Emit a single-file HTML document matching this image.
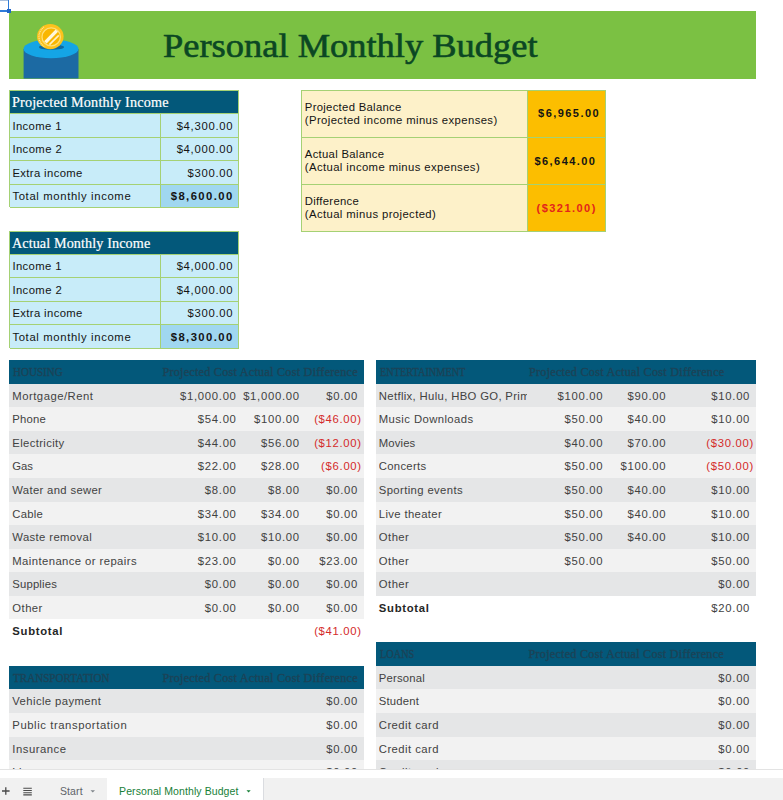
<!DOCTYPE html>
<html><head><meta charset="utf-8"><style>
html,body{margin:0;padding:0;background:#fff;}
body{width:783px;height:800px;position:relative;overflow:hidden;font-family:'Liberation Sans', sans-serif;}
body>div{position:absolute;}
.t{white-space:nowrap;}
</style></head><body>
<div style="left:9.20px;top:11.00px;width:746.80px;height:67.50px;background:#7bc143;"></div>
<div style="left:9.60px;top:90.70px;width:229.00px;height:23.00px;background:#03587a;"></div>
<div class="t" style="left:11.90px;top:95.15px;height:15.72px;line-height:15.72px;font-size:14.2px;color:#ffffff;font-family:'Liberation Serif', serif;font-weight:normal;letter-spacing:0.2px;-webkit-text-stroke:0.2px #fff;">Projected Monthly Income</div>
<div style="left:9.60px;top:113.70px;width:229.00px;height:23.45px;background:#c8ecf9;"></div>
<div class="t" style="right:549.80px;top:119.67px;height:12.62px;line-height:12.62px;font-size:11.3px;color:#141414;font-family:'Liberation Sans', sans-serif;font-weight:normal;letter-spacing:0.7px;">$4,300.00</div>
<div class="t" style="left:12.40px;top:119.67px;height:12.62px;line-height:12.62px;font-size:11.3px;color:#141414;font-family:'Liberation Sans', sans-serif;font-weight:normal;letter-spacing:0.374px;">Income 1</div>
<div style="left:9.60px;top:137.15px;width:229.00px;height:23.45px;background:#c8ecf9;"></div>
<div class="t" style="right:549.80px;top:143.12px;height:12.62px;line-height:12.62px;font-size:11.3px;color:#141414;font-family:'Liberation Sans', sans-serif;font-weight:normal;letter-spacing:0.7px;">$4,000.00</div>
<div class="t" style="left:12.40px;top:143.12px;height:12.62px;line-height:12.62px;font-size:11.3px;color:#141414;font-family:'Liberation Sans', sans-serif;font-weight:normal;letter-spacing:0.402px;">Income 2</div>
<div style="left:9.60px;top:160.60px;width:229.00px;height:23.45px;background:#c8ecf9;"></div>
<div class="t" style="right:549.80px;top:166.57px;height:12.62px;line-height:12.62px;font-size:11.3px;color:#141414;font-family:'Liberation Sans', sans-serif;font-weight:normal;letter-spacing:0.7px;">$300.00</div>
<div class="t" style="left:12.40px;top:166.57px;height:12.62px;line-height:12.62px;font-size:11.3px;color:#141414;font-family:'Liberation Sans', sans-serif;font-weight:normal;letter-spacing:0.369px;">Extra income</div>
<div style="left:9.60px;top:184.05px;width:229.00px;height:23.45px;background:#c8ecf9;"></div>
<div style="left:160.20px;top:184.05px;width:78.40px;height:23.45px;background:#a0d7f0;"></div>
<div class="t" style="right:549.40px;top:190.02px;height:12.62px;line-height:12.62px;font-size:11.3px;color:#141414;font-family:'Liberation Sans', sans-serif;font-weight:bold;letter-spacing:1.4px;">$8,600.00</div>
<div class="t" style="left:12.40px;top:190.02px;height:12.62px;line-height:12.62px;font-size:11.3px;color:#141414;font-family:'Liberation Sans', sans-serif;font-weight:normal;letter-spacing:0.641px;">Total monthly income</div>
<div style="left:9.60px;top:113.20px;width:229.00px;height:1.00px;background:#a5d174;"></div>
<div style="left:9.60px;top:136.65px;width:229.00px;height:1.00px;background:#a5d174;"></div>
<div style="left:9.60px;top:160.10px;width:229.00px;height:1.00px;background:#a5d174;"></div>
<div style="left:9.60px;top:183.55px;width:229.00px;height:1.00px;background:#a5d174;"></div>
<div style="left:9.60px;top:207.00px;width:229.00px;height:1.00px;background:#a5d174;"></div>
<div style="left:9.10px;top:90.20px;width:229.00px;height:1.00px;background:#a5d174;"></div>
<div style="left:9.10px;top:90.20px;width:1.00px;height:117.30px;background:#a5d174;"></div>
<div style="left:238.10px;top:90.20px;width:1.00px;height:117.30px;background:#a5d174;"></div>
<div style="left:159.70px;top:113.70px;width:1.00px;height:93.80px;background:#a5d174;"></div>
<div style="left:9.60px;top:231.40px;width:229.00px;height:23.00px;background:#03587a;"></div>
<div class="t" style="left:11.90px;top:235.85px;height:15.72px;line-height:15.72px;font-size:14.2px;color:#ffffff;font-family:'Liberation Serif', serif;font-weight:normal;letter-spacing:0.1px;-webkit-text-stroke:0.2px #fff;">Actual Monthly Income</div>
<div style="left:9.60px;top:254.40px;width:229.00px;height:23.45px;background:#c8ecf9;"></div>
<div class="t" style="right:549.80px;top:260.37px;height:12.62px;line-height:12.62px;font-size:11.3px;color:#141414;font-family:'Liberation Sans', sans-serif;font-weight:normal;letter-spacing:0.7px;">$4,000.00</div>
<div class="t" style="left:12.40px;top:260.37px;height:12.62px;line-height:12.62px;font-size:11.3px;color:#141414;font-family:'Liberation Sans', sans-serif;font-weight:normal;letter-spacing:0.374px;">Income 1</div>
<div style="left:9.60px;top:277.85px;width:229.00px;height:23.45px;background:#c8ecf9;"></div>
<div class="t" style="right:549.80px;top:283.82px;height:12.62px;line-height:12.62px;font-size:11.3px;color:#141414;font-family:'Liberation Sans', sans-serif;font-weight:normal;letter-spacing:0.7px;">$4,000.00</div>
<div class="t" style="left:12.40px;top:283.82px;height:12.62px;line-height:12.62px;font-size:11.3px;color:#141414;font-family:'Liberation Sans', sans-serif;font-weight:normal;letter-spacing:0.402px;">Income 2</div>
<div style="left:9.60px;top:301.30px;width:229.00px;height:23.45px;background:#c8ecf9;"></div>
<div class="t" style="right:549.80px;top:307.27px;height:12.62px;line-height:12.62px;font-size:11.3px;color:#141414;font-family:'Liberation Sans', sans-serif;font-weight:normal;letter-spacing:0.7px;">$300.00</div>
<div class="t" style="left:12.40px;top:307.27px;height:12.62px;line-height:12.62px;font-size:11.3px;color:#141414;font-family:'Liberation Sans', sans-serif;font-weight:normal;letter-spacing:0.369px;">Extra income</div>
<div style="left:9.60px;top:324.75px;width:229.00px;height:23.45px;background:#c8ecf9;"></div>
<div style="left:160.20px;top:324.75px;width:78.40px;height:23.45px;background:#a0d7f0;"></div>
<div class="t" style="right:549.40px;top:330.72px;height:12.62px;line-height:12.62px;font-size:11.3px;color:#141414;font-family:'Liberation Sans', sans-serif;font-weight:bold;letter-spacing:1.4px;">$8,300.00</div>
<div class="t" style="left:12.40px;top:330.72px;height:12.62px;line-height:12.62px;font-size:11.3px;color:#141414;font-family:'Liberation Sans', sans-serif;font-weight:normal;letter-spacing:0.641px;">Total monthly income</div>
<div style="left:9.60px;top:253.90px;width:229.00px;height:1.00px;background:#a5d174;"></div>
<div style="left:9.60px;top:277.35px;width:229.00px;height:1.00px;background:#a5d174;"></div>
<div style="left:9.60px;top:300.80px;width:229.00px;height:1.00px;background:#a5d174;"></div>
<div style="left:9.60px;top:324.25px;width:229.00px;height:1.00px;background:#a5d174;"></div>
<div style="left:9.60px;top:347.70px;width:229.00px;height:1.00px;background:#a5d174;"></div>
<div style="left:9.10px;top:230.90px;width:229.00px;height:1.00px;background:#a5d174;"></div>
<div style="left:9.10px;top:230.90px;width:1.00px;height:117.30px;background:#a5d174;"></div>
<div style="left:238.10px;top:230.90px;width:1.00px;height:117.30px;background:#a5d174;"></div>
<div style="left:159.70px;top:254.40px;width:1.00px;height:93.80px;background:#a5d174;"></div>
<div style="left:301.70px;top:90.20px;width:225.30px;height:141.00px;background:#fdf1c9;"></div>
<div style="left:527.00px;top:90.20px;width:78.30px;height:141.00px;background:#fcbe00;"></div>
<div style="left:301.20px;top:89.70px;width:304.60px;height:1.00px;background:#a5d174;"></div>
<div style="left:301.20px;top:136.80px;width:304.60px;height:1.00px;background:#a5d174;"></div>
<div style="left:301.20px;top:183.80px;width:304.60px;height:1.00px;background:#a5d174;"></div>
<div style="left:301.20px;top:230.70px;width:304.60px;height:1.00px;background:#a5d174;"></div>
<div style="left:301.20px;top:90.20px;width:1.00px;height:141.00px;background:#a5d174;"></div>
<div style="left:526.50px;top:90.20px;width:1.00px;height:141.00px;background:#a5d174;"></div>
<div style="left:604.80px;top:90.20px;width:1.00px;height:141.00px;background:#a5d174;"></div>
<div class="t" style="left:304.80px;top:101.27px;height:12.62px;line-height:12.62px;font-size:11.3px;color:#141414;font-family:'Liberation Sans', sans-serif;font-weight:normal;letter-spacing:0.3px;">Projected Balance</div>
<div class="t" style="left:304.80px;top:114.07px;height:12.62px;line-height:12.62px;font-size:11.3px;color:#141414;font-family:'Liberation Sans', sans-serif;font-weight:normal;letter-spacing:0.4px;">(Projected income minus expenses)</div>
<div class="t" style="right:182.95px;top:107.45px;height:12.29px;line-height:12.29px;font-size:11px;color:#141414;font-family:'Liberation Sans', sans-serif;font-weight:bold;letter-spacing:1.45px;">$6,965.00</div>
<div class="t" style="left:304.80px;top:148.37px;height:12.62px;line-height:12.62px;font-size:11.3px;color:#141414;font-family:'Liberation Sans', sans-serif;font-weight:normal;letter-spacing:0.3px;">Actual Balance</div>
<div class="t" style="left:304.80px;top:161.17px;height:12.62px;line-height:12.62px;font-size:11.3px;color:#141414;font-family:'Liberation Sans', sans-serif;font-weight:normal;letter-spacing:0.4px;">(Actual income minus expenses)</div>
<div class="t" style="right:186.55px;top:154.54px;height:12.29px;line-height:12.29px;font-size:11px;color:#141414;font-family:'Liberation Sans', sans-serif;font-weight:bold;letter-spacing:1.45px;">$6,644.00</div>
<div class="t" style="left:304.80px;top:195.37px;height:12.62px;line-height:12.62px;font-size:11.3px;color:#141414;font-family:'Liberation Sans', sans-serif;font-weight:normal;letter-spacing:0.3px;">Difference</div>
<div class="t" style="left:304.80px;top:208.17px;height:12.62px;line-height:12.62px;font-size:11.3px;color:#141414;font-family:'Liberation Sans', sans-serif;font-weight:normal;letter-spacing:0.4px;">(Actual minus projected)</div>
<div class="t" style="right:186.25px;top:201.54px;height:12.29px;line-height:12.29px;font-size:11px;color:#e3241b;font-family:'Liberation Sans', sans-serif;font-weight:bold;letter-spacing:1.45px;">($321.00)</div>
<div style="left:9.20px;top:360.30px;width:354.70px;height:23.40px;background:#03587a;"></div>
<div class="t" style="left:13.10px;top:366.23px;height:13.51px;line-height:13.51px;font-size:12.2px;color:#1b4357;font-family:'Liberation Serif', serif;font-weight:normal;letter-spacing:0px;-webkit-text-stroke:0.35px #1b4357;transform:scaleX(0.905);transform-origin:0 0;">HOUSING</div>
<div class="t" style="left:162.40px;top:366.23px;height:13.51px;line-height:13.51px;font-size:12.2px;color:#1b4357;font-family:'Liberation Serif', serif;font-weight:normal;letter-spacing:0.24px;-webkit-text-stroke:0.35px #1b4357;">Projected Cost Actual Cost Difference</div>
<div style="left:9.20px;top:383.70px;width:354.70px;height:23.57px;background:#e5e6e7;"></div>
<div class="t" style="left:12.30px;top:389.77px;height:12.62px;line-height:12.62px;font-size:11.3px;color:#424242;font-family:'Liberation Sans', sans-serif;font-weight:normal;letter-spacing:0.493px;width:165.70px;overflow:hidden;">Mortgage/Rent</div>
<div class="t" style="right:546.40px;top:389.77px;height:12.62px;line-height:12.62px;font-size:11.3px;color:#424242;font-family:'Liberation Sans', sans-serif;font-weight:normal;letter-spacing:0.7px;">$1,000.00</div>
<div class="t" style="right:483.30px;top:389.77px;height:12.62px;line-height:12.62px;font-size:11.3px;color:#424242;font-family:'Liberation Sans', sans-serif;font-weight:normal;letter-spacing:0.7px;">$1,000.00</div>
<div class="t" style="right:425.00px;top:389.77px;height:12.62px;line-height:12.62px;font-size:11.3px;color:#424242;font-family:'Liberation Sans', sans-serif;font-weight:normal;letter-spacing:0.7px;">$0.00</div>
<div style="left:9.20px;top:407.27px;width:354.70px;height:23.57px;background:#f2f2f2;"></div>
<div class="t" style="left:12.30px;top:413.34px;height:12.62px;line-height:12.62px;font-size:11.3px;color:#424242;font-family:'Liberation Sans', sans-serif;font-weight:normal;letter-spacing:0.204px;width:165.70px;overflow:hidden;">Phone</div>
<div class="t" style="right:546.40px;top:413.34px;height:12.62px;line-height:12.62px;font-size:11.3px;color:#424242;font-family:'Liberation Sans', sans-serif;font-weight:normal;letter-spacing:0.7px;">$54.00</div>
<div class="t" style="right:483.30px;top:413.34px;height:12.62px;line-height:12.62px;font-size:11.3px;color:#424242;font-family:'Liberation Sans', sans-serif;font-weight:normal;letter-spacing:0.7px;">$100.00</div>
<div class="t" style="right:421.20px;top:413.34px;height:12.62px;line-height:12.62px;font-size:11.3px;color:#d42a2a;font-family:'Liberation Sans', sans-serif;font-weight:normal;letter-spacing:0.7px;">($46.00)</div>
<div style="left:9.20px;top:430.84px;width:354.70px;height:23.57px;background:#e5e6e7;"></div>
<div class="t" style="left:12.30px;top:436.91px;height:12.62px;line-height:12.62px;font-size:11.3px;color:#424242;font-family:'Liberation Sans', sans-serif;font-weight:normal;letter-spacing:0.352px;width:165.70px;overflow:hidden;">Electricity</div>
<div class="t" style="right:546.40px;top:436.91px;height:12.62px;line-height:12.62px;font-size:11.3px;color:#424242;font-family:'Liberation Sans', sans-serif;font-weight:normal;letter-spacing:0.7px;">$44.00</div>
<div class="t" style="right:483.30px;top:436.91px;height:12.62px;line-height:12.62px;font-size:11.3px;color:#424242;font-family:'Liberation Sans', sans-serif;font-weight:normal;letter-spacing:0.7px;">$56.00</div>
<div class="t" style="right:421.20px;top:436.91px;height:12.62px;line-height:12.62px;font-size:11.3px;color:#d42a2a;font-family:'Liberation Sans', sans-serif;font-weight:normal;letter-spacing:0.7px;">($12.00)</div>
<div style="left:9.20px;top:454.41px;width:354.70px;height:23.57px;background:#f2f2f2;"></div>
<div class="t" style="left:12.30px;top:460.48px;height:12.62px;line-height:12.62px;font-size:11.3px;color:#424242;font-family:'Liberation Sans', sans-serif;font-weight:normal;letter-spacing:0.0px;width:165.70px;overflow:hidden;">Gas</div>
<div class="t" style="right:546.40px;top:460.48px;height:12.62px;line-height:12.62px;font-size:11.3px;color:#424242;font-family:'Liberation Sans', sans-serif;font-weight:normal;letter-spacing:0.7px;">$22.00</div>
<div class="t" style="right:483.30px;top:460.48px;height:12.62px;line-height:12.62px;font-size:11.3px;color:#424242;font-family:'Liberation Sans', sans-serif;font-weight:normal;letter-spacing:0.7px;">$28.00</div>
<div class="t" style="right:421.20px;top:460.48px;height:12.62px;line-height:12.62px;font-size:11.3px;color:#d42a2a;font-family:'Liberation Sans', sans-serif;font-weight:normal;letter-spacing:0.7px;">($6.00)</div>
<div style="left:9.20px;top:477.98px;width:354.70px;height:23.57px;background:#e5e6e7;"></div>
<div class="t" style="left:12.30px;top:484.05px;height:12.62px;line-height:12.62px;font-size:11.3px;color:#424242;font-family:'Liberation Sans', sans-serif;font-weight:normal;letter-spacing:0.328px;width:165.70px;overflow:hidden;">Water and sewer</div>
<div class="t" style="right:546.40px;top:484.05px;height:12.62px;line-height:12.62px;font-size:11.3px;color:#424242;font-family:'Liberation Sans', sans-serif;font-weight:normal;letter-spacing:0.7px;">$8.00</div>
<div class="t" style="right:483.30px;top:484.05px;height:12.62px;line-height:12.62px;font-size:11.3px;color:#424242;font-family:'Liberation Sans', sans-serif;font-weight:normal;letter-spacing:0.7px;">$8.00</div>
<div class="t" style="right:425.00px;top:484.05px;height:12.62px;line-height:12.62px;font-size:11.3px;color:#424242;font-family:'Liberation Sans', sans-serif;font-weight:normal;letter-spacing:0.7px;">$0.00</div>
<div style="left:9.20px;top:501.55px;width:354.70px;height:23.57px;background:#f2f2f2;"></div>
<div class="t" style="left:12.30px;top:507.62px;height:12.62px;line-height:12.62px;font-size:11.3px;color:#424242;font-family:'Liberation Sans', sans-serif;font-weight:normal;letter-spacing:0.217px;width:165.70px;overflow:hidden;">Cable</div>
<div class="t" style="right:546.40px;top:507.62px;height:12.62px;line-height:12.62px;font-size:11.3px;color:#424242;font-family:'Liberation Sans', sans-serif;font-weight:normal;letter-spacing:0.7px;">$34.00</div>
<div class="t" style="right:483.30px;top:507.62px;height:12.62px;line-height:12.62px;font-size:11.3px;color:#424242;font-family:'Liberation Sans', sans-serif;font-weight:normal;letter-spacing:0.7px;">$34.00</div>
<div class="t" style="right:425.00px;top:507.62px;height:12.62px;line-height:12.62px;font-size:11.3px;color:#424242;font-family:'Liberation Sans', sans-serif;font-weight:normal;letter-spacing:0.7px;">$0.00</div>
<div style="left:9.20px;top:525.12px;width:354.70px;height:23.57px;background:#e5e6e7;"></div>
<div class="t" style="left:12.30px;top:531.19px;height:12.62px;line-height:12.62px;font-size:11.3px;color:#424242;font-family:'Liberation Sans', sans-serif;font-weight:normal;letter-spacing:0.375px;width:165.70px;overflow:hidden;">Waste removal</div>
<div class="t" style="right:546.40px;top:531.19px;height:12.62px;line-height:12.62px;font-size:11.3px;color:#424242;font-family:'Liberation Sans', sans-serif;font-weight:normal;letter-spacing:0.7px;">$10.00</div>
<div class="t" style="right:483.30px;top:531.19px;height:12.62px;line-height:12.62px;font-size:11.3px;color:#424242;font-family:'Liberation Sans', sans-serif;font-weight:normal;letter-spacing:0.7px;">$10.00</div>
<div class="t" style="right:425.00px;top:531.19px;height:12.62px;line-height:12.62px;font-size:11.3px;color:#424242;font-family:'Liberation Sans', sans-serif;font-weight:normal;letter-spacing:0.7px;">$0.00</div>
<div style="left:9.20px;top:548.69px;width:354.70px;height:23.57px;background:#f2f2f2;"></div>
<div class="t" style="left:12.30px;top:554.76px;height:12.62px;line-height:12.62px;font-size:11.3px;color:#424242;font-family:'Liberation Sans', sans-serif;font-weight:normal;letter-spacing:0.415px;width:165.70px;overflow:hidden;">Maintenance or repairs</div>
<div class="t" style="right:546.40px;top:554.76px;height:12.62px;line-height:12.62px;font-size:11.3px;color:#424242;font-family:'Liberation Sans', sans-serif;font-weight:normal;letter-spacing:0.7px;">$23.00</div>
<div class="t" style="right:483.30px;top:554.76px;height:12.62px;line-height:12.62px;font-size:11.3px;color:#424242;font-family:'Liberation Sans', sans-serif;font-weight:normal;letter-spacing:0.7px;">$0.00</div>
<div class="t" style="right:425.00px;top:554.76px;height:12.62px;line-height:12.62px;font-size:11.3px;color:#424242;font-family:'Liberation Sans', sans-serif;font-weight:normal;letter-spacing:0.7px;">$23.00</div>
<div style="left:9.20px;top:572.26px;width:354.70px;height:23.57px;background:#e5e6e7;"></div>
<div class="t" style="left:12.30px;top:578.33px;height:12.62px;line-height:12.62px;font-size:11.3px;color:#424242;font-family:'Liberation Sans', sans-serif;font-weight:normal;letter-spacing:0.173px;width:165.70px;overflow:hidden;">Supplies</div>
<div class="t" style="right:546.40px;top:578.33px;height:12.62px;line-height:12.62px;font-size:11.3px;color:#424242;font-family:'Liberation Sans', sans-serif;font-weight:normal;letter-spacing:0.7px;">$0.00</div>
<div class="t" style="right:483.30px;top:578.33px;height:12.62px;line-height:12.62px;font-size:11.3px;color:#424242;font-family:'Liberation Sans', sans-serif;font-weight:normal;letter-spacing:0.7px;">$0.00</div>
<div class="t" style="right:425.00px;top:578.33px;height:12.62px;line-height:12.62px;font-size:11.3px;color:#424242;font-family:'Liberation Sans', sans-serif;font-weight:normal;letter-spacing:0.7px;">$0.00</div>
<div style="left:9.20px;top:595.83px;width:354.70px;height:23.57px;background:#f2f2f2;"></div>
<div class="t" style="left:12.30px;top:601.90px;height:12.62px;line-height:12.62px;font-size:11.3px;color:#424242;font-family:'Liberation Sans', sans-serif;font-weight:normal;letter-spacing:0.452px;width:165.70px;overflow:hidden;">Other</div>
<div class="t" style="right:546.40px;top:601.90px;height:12.62px;line-height:12.62px;font-size:11.3px;color:#424242;font-family:'Liberation Sans', sans-serif;font-weight:normal;letter-spacing:0.7px;">$0.00</div>
<div class="t" style="right:483.30px;top:601.90px;height:12.62px;line-height:12.62px;font-size:11.3px;color:#424242;font-family:'Liberation Sans', sans-serif;font-weight:normal;letter-spacing:0.7px;">$0.00</div>
<div class="t" style="right:425.00px;top:601.90px;height:12.62px;line-height:12.62px;font-size:11.3px;color:#424242;font-family:'Liberation Sans', sans-serif;font-weight:normal;letter-spacing:0.7px;">$0.00</div>
<div class="t" style="left:12.30px;top:625.47px;height:12.62px;line-height:12.62px;font-size:11.3px;color:#262626;font-family:'Liberation Sans', sans-serif;font-weight:bold;letter-spacing:0.7px;">Subtotal</div>
<div class="t" style="right:421.20px;top:625.47px;height:12.62px;line-height:12.62px;font-size:11.3px;color:#d42a2a;font-family:'Liberation Sans', sans-serif;font-weight:normal;letter-spacing:0.7px;">($41.00)</div>
<div style="left:375.70px;top:360.30px;width:380.10px;height:23.40px;background:#03587a;"></div>
<div class="t" style="left:379.60px;top:366.23px;height:13.51px;line-height:13.51px;font-size:12.2px;color:#1b4357;font-family:'Liberation Serif', serif;font-weight:normal;letter-spacing:0px;-webkit-text-stroke:0.35px #1b4357;transform:scaleX(0.844);transform-origin:0 0;">ENTERTAINMENT</div>
<div class="t" style="left:529.00px;top:366.23px;height:13.51px;line-height:13.51px;font-size:12.2px;color:#1b4357;font-family:'Liberation Serif', serif;font-weight:normal;letter-spacing:0.24px;-webkit-text-stroke:0.35px #1b4357;">Projected Cost Actual Cost Difference</div>
<div style="left:375.70px;top:383.70px;width:380.10px;height:23.57px;background:#e5e6e7;"></div>
<div class="t" style="left:378.80px;top:389.77px;height:12.62px;line-height:12.62px;font-size:11.3px;color:#424242;font-family:'Liberation Sans', sans-serif;font-weight:normal;letter-spacing:0.344px;width:147.80px;overflow:hidden;">Netflix, Hulu, HBO GO, Prime</div>
<div class="t" style="right:179.70px;top:389.77px;height:12.62px;line-height:12.62px;font-size:11.3px;color:#424242;font-family:'Liberation Sans', sans-serif;font-weight:normal;letter-spacing:0.7px;">$100.00</div>
<div class="t" style="right:116.70px;top:389.77px;height:12.62px;line-height:12.62px;font-size:11.3px;color:#424242;font-family:'Liberation Sans', sans-serif;font-weight:normal;letter-spacing:0.7px;">$90.00</div>
<div class="t" style="right:32.90px;top:389.77px;height:12.62px;line-height:12.62px;font-size:11.3px;color:#424242;font-family:'Liberation Sans', sans-serif;font-weight:normal;letter-spacing:0.7px;">$10.00</div>
<div style="left:375.70px;top:407.27px;width:380.10px;height:23.57px;background:#f2f2f2;"></div>
<div class="t" style="left:378.80px;top:413.34px;height:12.62px;line-height:12.62px;font-size:11.3px;color:#424242;font-family:'Liberation Sans', sans-serif;font-weight:normal;letter-spacing:0.409px;width:147.80px;overflow:hidden;">Music Downloads</div>
<div class="t" style="right:179.70px;top:413.34px;height:12.62px;line-height:12.62px;font-size:11.3px;color:#424242;font-family:'Liberation Sans', sans-serif;font-weight:normal;letter-spacing:0.7px;">$50.00</div>
<div class="t" style="right:116.70px;top:413.34px;height:12.62px;line-height:12.62px;font-size:11.3px;color:#424242;font-family:'Liberation Sans', sans-serif;font-weight:normal;letter-spacing:0.7px;">$40.00</div>
<div class="t" style="right:32.90px;top:413.34px;height:12.62px;line-height:12.62px;font-size:11.3px;color:#424242;font-family:'Liberation Sans', sans-serif;font-weight:normal;letter-spacing:0.7px;">$10.00</div>
<div style="left:375.70px;top:430.84px;width:380.10px;height:23.57px;background:#e5e6e7;"></div>
<div class="t" style="left:378.80px;top:436.91px;height:12.62px;line-height:12.62px;font-size:11.3px;color:#424242;font-family:'Liberation Sans', sans-serif;font-weight:normal;letter-spacing:0.133px;width:147.80px;overflow:hidden;">Movies</div>
<div class="t" style="right:179.70px;top:436.91px;height:12.62px;line-height:12.62px;font-size:11.3px;color:#424242;font-family:'Liberation Sans', sans-serif;font-weight:normal;letter-spacing:0.7px;">$40.00</div>
<div class="t" style="right:116.70px;top:436.91px;height:12.62px;line-height:12.62px;font-size:11.3px;color:#424242;font-family:'Liberation Sans', sans-serif;font-weight:normal;letter-spacing:0.7px;">$70.00</div>
<div class="t" style="right:29.10px;top:436.91px;height:12.62px;line-height:12.62px;font-size:11.3px;color:#d42a2a;font-family:'Liberation Sans', sans-serif;font-weight:normal;letter-spacing:0.7px;">($30.00)</div>
<div style="left:375.70px;top:454.41px;width:380.10px;height:23.57px;background:#f2f2f2;"></div>
<div class="t" style="left:378.80px;top:460.48px;height:12.62px;line-height:12.62px;font-size:11.3px;color:#424242;font-family:'Liberation Sans', sans-serif;font-weight:normal;letter-spacing:0.292px;width:147.80px;overflow:hidden;">Concerts</div>
<div class="t" style="right:179.70px;top:460.48px;height:12.62px;line-height:12.62px;font-size:11.3px;color:#424242;font-family:'Liberation Sans', sans-serif;font-weight:normal;letter-spacing:0.7px;">$50.00</div>
<div class="t" style="right:116.70px;top:460.48px;height:12.62px;line-height:12.62px;font-size:11.3px;color:#424242;font-family:'Liberation Sans', sans-serif;font-weight:normal;letter-spacing:0.7px;">$100.00</div>
<div class="t" style="right:29.10px;top:460.48px;height:12.62px;line-height:12.62px;font-size:11.3px;color:#d42a2a;font-family:'Liberation Sans', sans-serif;font-weight:normal;letter-spacing:0.7px;">($50.00)</div>
<div style="left:375.70px;top:477.98px;width:380.10px;height:23.57px;background:#e5e6e7;"></div>
<div class="t" style="left:378.80px;top:484.05px;height:12.62px;line-height:12.62px;font-size:11.3px;color:#424242;font-family:'Liberation Sans', sans-serif;font-weight:normal;letter-spacing:0.375px;width:147.80px;overflow:hidden;">Sporting events</div>
<div class="t" style="right:179.70px;top:484.05px;height:12.62px;line-height:12.62px;font-size:11.3px;color:#424242;font-family:'Liberation Sans', sans-serif;font-weight:normal;letter-spacing:0.7px;">$50.00</div>
<div class="t" style="right:116.70px;top:484.05px;height:12.62px;line-height:12.62px;font-size:11.3px;color:#424242;font-family:'Liberation Sans', sans-serif;font-weight:normal;letter-spacing:0.7px;">$40.00</div>
<div class="t" style="right:32.90px;top:484.05px;height:12.62px;line-height:12.62px;font-size:11.3px;color:#424242;font-family:'Liberation Sans', sans-serif;font-weight:normal;letter-spacing:0.7px;">$10.00</div>
<div style="left:375.70px;top:501.55px;width:380.10px;height:23.57px;background:#f2f2f2;"></div>
<div class="t" style="left:378.80px;top:507.62px;height:12.62px;line-height:12.62px;font-size:11.3px;color:#424242;font-family:'Liberation Sans', sans-serif;font-weight:normal;letter-spacing:0.357px;width:147.80px;overflow:hidden;">Live theater</div>
<div class="t" style="right:179.70px;top:507.62px;height:12.62px;line-height:12.62px;font-size:11.3px;color:#424242;font-family:'Liberation Sans', sans-serif;font-weight:normal;letter-spacing:0.7px;">$50.00</div>
<div class="t" style="right:116.70px;top:507.62px;height:12.62px;line-height:12.62px;font-size:11.3px;color:#424242;font-family:'Liberation Sans', sans-serif;font-weight:normal;letter-spacing:0.7px;">$40.00</div>
<div class="t" style="right:32.90px;top:507.62px;height:12.62px;line-height:12.62px;font-size:11.3px;color:#424242;font-family:'Liberation Sans', sans-serif;font-weight:normal;letter-spacing:0.7px;">$10.00</div>
<div style="left:375.70px;top:525.12px;width:380.10px;height:23.57px;background:#e5e6e7;"></div>
<div class="t" style="left:378.80px;top:531.19px;height:12.62px;line-height:12.62px;font-size:11.3px;color:#424242;font-family:'Liberation Sans', sans-serif;font-weight:normal;letter-spacing:0.452px;width:147.80px;overflow:hidden;">Other</div>
<div class="t" style="right:179.70px;top:531.19px;height:12.62px;line-height:12.62px;font-size:11.3px;color:#424242;font-family:'Liberation Sans', sans-serif;font-weight:normal;letter-spacing:0.7px;">$50.00</div>
<div class="t" style="right:116.70px;top:531.19px;height:12.62px;line-height:12.62px;font-size:11.3px;color:#424242;font-family:'Liberation Sans', sans-serif;font-weight:normal;letter-spacing:0.7px;">$40.00</div>
<div class="t" style="right:32.90px;top:531.19px;height:12.62px;line-height:12.62px;font-size:11.3px;color:#424242;font-family:'Liberation Sans', sans-serif;font-weight:normal;letter-spacing:0.7px;">$10.00</div>
<div style="left:375.70px;top:548.69px;width:380.10px;height:23.57px;background:#f2f2f2;"></div>
<div class="t" style="left:378.80px;top:554.76px;height:12.62px;line-height:12.62px;font-size:11.3px;color:#424242;font-family:'Liberation Sans', sans-serif;font-weight:normal;letter-spacing:0.452px;width:147.80px;overflow:hidden;">Other</div>
<div class="t" style="right:179.70px;top:554.76px;height:12.62px;line-height:12.62px;font-size:11.3px;color:#424242;font-family:'Liberation Sans', sans-serif;font-weight:normal;letter-spacing:0.7px;">$50.00</div>
<div class="t" style="right:32.90px;top:554.76px;height:12.62px;line-height:12.62px;font-size:11.3px;color:#424242;font-family:'Liberation Sans', sans-serif;font-weight:normal;letter-spacing:0.7px;">$50.00</div>
<div style="left:375.70px;top:572.26px;width:380.10px;height:23.57px;background:#e5e6e7;"></div>
<div class="t" style="left:378.80px;top:578.33px;height:12.62px;line-height:12.62px;font-size:11.3px;color:#424242;font-family:'Liberation Sans', sans-serif;font-weight:normal;letter-spacing:0.452px;width:147.80px;overflow:hidden;">Other</div>
<div class="t" style="right:32.90px;top:578.33px;height:12.62px;line-height:12.62px;font-size:11.3px;color:#424242;font-family:'Liberation Sans', sans-serif;font-weight:normal;letter-spacing:0.7px;">$0.00</div>
<div class="t" style="left:378.80px;top:601.90px;height:12.62px;line-height:12.62px;font-size:11.3px;color:#262626;font-family:'Liberation Sans', sans-serif;font-weight:bold;letter-spacing:0.7px;">Subtotal</div>
<div class="t" style="right:32.90px;top:601.90px;height:12.62px;line-height:12.62px;font-size:11.3px;color:#424242;font-family:'Liberation Sans', sans-serif;font-weight:normal;letter-spacing:0.7px;">$20.00</div>
<div style="left:9.20px;top:666.00px;width:354.70px;height:23.40px;background:#03587a;"></div>
<div class="t" style="left:13.10px;top:671.93px;height:13.51px;line-height:13.51px;font-size:12.2px;color:#1b4357;font-family:'Liberation Serif', serif;font-weight:normal;letter-spacing:0px;-webkit-text-stroke:0.35px #1b4357;transform:scaleX(0.910);transform-origin:0 0;">TRANSPORTATION</div>
<div class="t" style="left:162.40px;top:671.93px;height:13.51px;line-height:13.51px;font-size:12.2px;color:#1b4357;font-family:'Liberation Serif', serif;font-weight:normal;letter-spacing:0.24px;-webkit-text-stroke:0.35px #1b4357;">Projected Cost Actual Cost Difference</div>
<div style="left:9.20px;top:689.40px;width:354.70px;height:23.57px;background:#e5e6e7;"></div>
<div class="t" style="left:12.30px;top:695.47px;height:12.62px;line-height:12.62px;font-size:11.3px;color:#424242;font-family:'Liberation Sans', sans-serif;font-weight:normal;letter-spacing:0.403px;width:165.70px;overflow:hidden;">Vehicle payment</div>
<div class="t" style="right:425.00px;top:695.47px;height:12.62px;line-height:12.62px;font-size:11.3px;color:#424242;font-family:'Liberation Sans', sans-serif;font-weight:normal;letter-spacing:0.7px;">$0.00</div>
<div style="left:9.20px;top:712.97px;width:354.70px;height:23.57px;background:#f2f2f2;"></div>
<div class="t" style="left:12.30px;top:719.04px;height:12.62px;line-height:12.62px;font-size:11.3px;color:#424242;font-family:'Liberation Sans', sans-serif;font-weight:normal;letter-spacing:0.57px;width:165.70px;overflow:hidden;">Public transportation</div>
<div class="t" style="right:425.00px;top:719.04px;height:12.62px;line-height:12.62px;font-size:11.3px;color:#424242;font-family:'Liberation Sans', sans-serif;font-weight:normal;letter-spacing:0.7px;">$0.00</div>
<div style="left:9.20px;top:736.54px;width:354.70px;height:23.57px;background:#e5e6e7;"></div>
<div class="t" style="left:12.30px;top:742.61px;height:12.62px;line-height:12.62px;font-size:11.3px;color:#424242;font-family:'Liberation Sans', sans-serif;font-weight:normal;letter-spacing:0.509px;width:165.70px;overflow:hidden;">Insurance</div>
<div class="t" style="right:425.00px;top:742.61px;height:12.62px;line-height:12.62px;font-size:11.3px;color:#424242;font-family:'Liberation Sans', sans-serif;font-weight:normal;letter-spacing:0.7px;">$0.00</div>
<div style="left:9.20px;top:760.11px;width:354.70px;height:9.29px;background:#f2f2f2;"></div>
<div class="t" style="left:12.30px;top:766.18px;height:12.62px;line-height:12.62px;font-size:11.3px;color:#424242;font-family:'Liberation Sans', sans-serif;font-weight:normal;letter-spacing:0.4px;width:165.70px;overflow:hidden;clip-path:inset(0 -5px 9.41px -5px);">License</div>
<div class="t" style="right:425.00px;top:766.18px;height:12.62px;line-height:12.62px;font-size:11.3px;color:#424242;font-family:'Liberation Sans', sans-serif;font-weight:normal;letter-spacing:0.7px;clip-path:inset(0 -5px 9.41px -5px);">$0.00</div>
<div style="left:375.70px;top:642.40px;width:380.10px;height:23.40px;background:#03587a;"></div>
<div class="t" style="left:379.60px;top:648.33px;height:13.51px;line-height:13.51px;font-size:12.2px;color:#1b4357;font-family:'Liberation Serif', serif;font-weight:normal;letter-spacing:0px;-webkit-text-stroke:0.35px #1b4357;transform:scaleX(0.845);transform-origin:0 0;">LOANS</div>
<div class="t" style="left:528.50px;top:648.33px;height:13.51px;line-height:13.51px;font-size:12.2px;color:#1b4357;font-family:'Liberation Serif', serif;font-weight:normal;letter-spacing:0.24px;-webkit-text-stroke:0.35px #1b4357;">Projected Cost Actual Cost Difference</div>
<div style="left:375.70px;top:665.80px;width:380.10px;height:23.57px;background:#e5e6e7;"></div>
<div class="t" style="left:378.80px;top:671.87px;height:12.62px;line-height:12.62px;font-size:11.3px;color:#424242;font-family:'Liberation Sans', sans-serif;font-weight:normal;letter-spacing:0.189px;width:147.80px;overflow:hidden;">Personal</div>
<div class="t" style="right:32.90px;top:671.87px;height:12.62px;line-height:12.62px;font-size:11.3px;color:#424242;font-family:'Liberation Sans', sans-serif;font-weight:normal;letter-spacing:0.7px;">$0.00</div>
<div style="left:375.70px;top:689.37px;width:380.10px;height:23.57px;background:#f2f2f2;"></div>
<div class="t" style="left:378.80px;top:695.44px;height:12.62px;line-height:12.62px;font-size:11.3px;color:#424242;font-family:'Liberation Sans', sans-serif;font-weight:normal;letter-spacing:0.183px;width:147.80px;overflow:hidden;">Student</div>
<div class="t" style="right:32.90px;top:695.44px;height:12.62px;line-height:12.62px;font-size:11.3px;color:#424242;font-family:'Liberation Sans', sans-serif;font-weight:normal;letter-spacing:0.7px;">$0.00</div>
<div style="left:375.70px;top:712.94px;width:380.10px;height:23.57px;background:#e5e6e7;"></div>
<div class="t" style="left:378.80px;top:719.01px;height:12.62px;line-height:12.62px;font-size:11.3px;color:#424242;font-family:'Liberation Sans', sans-serif;font-weight:normal;letter-spacing:0.443px;width:147.80px;overflow:hidden;">Credit card</div>
<div class="t" style="right:32.90px;top:719.01px;height:12.62px;line-height:12.62px;font-size:11.3px;color:#424242;font-family:'Liberation Sans', sans-serif;font-weight:normal;letter-spacing:0.7px;">$0.00</div>
<div style="left:375.70px;top:736.51px;width:380.10px;height:23.57px;background:#f2f2f2;"></div>
<div class="t" style="left:378.80px;top:742.58px;height:12.62px;line-height:12.62px;font-size:11.3px;color:#424242;font-family:'Liberation Sans', sans-serif;font-weight:normal;letter-spacing:0.443px;width:147.80px;overflow:hidden;">Credit card</div>
<div class="t" style="right:32.90px;top:742.58px;height:12.62px;line-height:12.62px;font-size:11.3px;color:#424242;font-family:'Liberation Sans', sans-serif;font-weight:normal;letter-spacing:0.7px;">$0.00</div>
<div style="left:375.70px;top:760.08px;width:380.10px;height:9.32px;background:#e5e6e7;"></div>
<div class="t" style="left:378.80px;top:766.15px;height:12.62px;line-height:12.62px;font-size:11.3px;color:#424242;font-family:'Liberation Sans', sans-serif;font-weight:normal;letter-spacing:0.443px;width:147.80px;overflow:hidden;clip-path:inset(0 -5px 9.38px -5px);">Credit card</div>
<div class="t" style="right:32.90px;top:766.15px;height:12.62px;line-height:12.62px;font-size:11.3px;color:#424242;font-family:'Liberation Sans', sans-serif;font-weight:normal;letter-spacing:0.7px;clip-path:inset(0 -5px 9.38px -5px);">$0.00</div>
<svg style="position:absolute;left:0;top:0" width="100" height="90" viewBox="0 0 100 90">
<rect x="23.6" y="49" width="54.9" height="29.5" fill="#1c6aa3"/>
<ellipse cx="51" cy="48.9" rx="27.5" ry="9.3" fill="#14a5e6"/>
<ellipse cx="51.5" cy="47.2" rx="12.5" ry="2.6" fill="#0f6aa0"/>
<ellipse cx="50.3" cy="36.6" rx="13.3" ry="12.6" fill="#fcc21c"/>
<path d="M44 27 A12.4 12 0 0 0 45 47" fill="none" stroke="#fde9a0" stroke-width="1.2" stroke-dasharray="1 0.8"/>
<ellipse cx="51.2" cy="36.9" rx="9.2" ry="9.0" fill="#f9b600" stroke="#fee07a" stroke-width="1.2"/>
<path d="M45.4 42.4 L56.8 30.6" stroke="#fff7dc" stroke-width="3.4" fill="none"/>
<path d="M49.4 44.6 L58.8 35.4" stroke="#fff1c4" stroke-width="1.6" fill="none"/>
</svg>
<div class="t" style="left:162.90px;top:26.55px;height:37.08px;line-height:37.08px;font-size:33.5px;color:#0b4723;font-family:'Liberation Serif', serif;font-weight:normal;letter-spacing:0px;-webkit-text-stroke:0.6px #0b4723;transform:scaleX(1.088);transform-origin:0 0;">Personal Monthly Budget</div>
<div style="left:8.10px;top:0.00px;width:1.40px;height:9.50px;background:#2f7bd9;"></div>
<div style="left:0.00px;top:10.30px;width:7.50px;height:1.40px;background:#2f7bd9;"></div>
<div style="left:6.90px;top:9.00px;width:4.00px;height:3.80px;background:#1f66c8;"></div>
<div style="left:0.00px;top:0.00px;width:8.00px;height:0.60px;background:#a9bfdc;"></div>
<div style="left:0.00px;top:769.30px;width:783.00px;height:1.00px;background:#e3e3e3;"></div>
<div style="left:0.00px;top:770.30px;width:783.00px;height:8.10px;background:#ffffff;"></div>
<div style="left:0.00px;top:778.40px;width:783.00px;height:21.60px;background:#f1f1f1;"></div>
<div style="left:106.50px;top:778.40px;width:156.30px;height:21.60px;background:#ffffff;"></div>
<div style="left:262.80px;top:778.40px;width:1.00px;height:21.60px;background:#dadce0;"></div>
<div class="t" style="left:119.10px;top:785.50px;height:11.73px;line-height:11.73px;font-size:10.5px;color:#188038;font-family:'Liberation Sans', sans-serif;font-weight:normal;letter-spacing:0.09px;">Personal Monthly Budget</div>
<svg style="position:absolute;left:0;top:770" width="783" height="30"><path d="M246.5 20.2 L250.7 20.2 L248.6 22.4 Z" fill="#188038"/><path d="M90.5 20.2 L95 20.2 L92.75 22.4 Z" fill="#80868b"/><path d="M2 21 H9.6 M5.8 17.2 V24.8" stroke="#4a4a4a" stroke-width="1.3"/><path d="M23.3 18.3 H31.8 M23.3 20.5 H31.8 M23.3 22.7 H31.8 M23.3 24.9 H31.8" stroke="#4a4a4a" stroke-width="1.1"/></svg>
<div class="t" style="left:60.00px;top:785.50px;height:11.73px;line-height:11.73px;font-size:10.5px;color:#5f6368;font-family:'Liberation Sans', sans-serif;font-weight:normal;letter-spacing:0.1px;">Start</div>
</body></html>
